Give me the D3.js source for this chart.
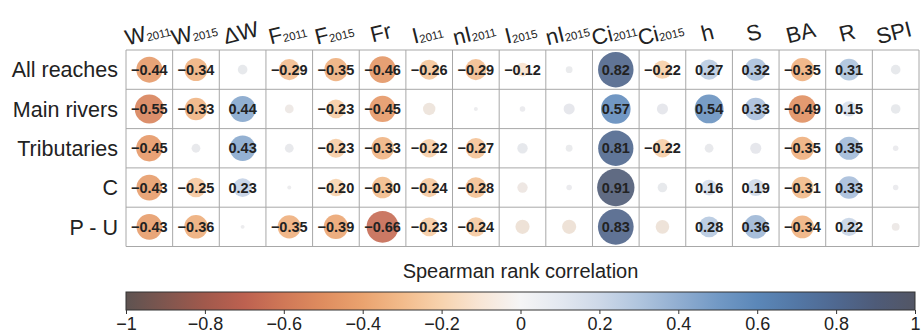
<!DOCTYPE html>
<html>
<head>
<meta charset="utf-8">
<script src="https://cdn.jsdelivr.net/npm/d3@7"></script>
<style>
  html, body { margin: 0; padding: 0; background: #fff; }
  svg { display: block; font-family: "Liberation Sans", Arial, sans-serif; }
</style>
</head>
<body>
<svg id="chart" width="921" height="336"></svg>
<script>
// Reach groups (rows)
const rows = ["All reaches", "Main rivers", "Tributaries", "C", "P - U"];

// Variables (columns): main symbol and subscript
const colBase = ["W", "W", "ΔW", "F", "F", "Fr", "I", "nI", "I", "nI", "Ci", "Ci", "h", "S", "BA", "R", "SPI"];
const colSub  = ["2011", "2015", "", "2011", "2015", "", "2011", "2011", "2015", "2015", "2011", "2015", "", "", "", "", ""];

// Spearman rank correlations per row
const rhoAll   = [-0.44, -0.34,  0.06, -0.29, -0.35, -0.46, -0.26, -0.29, -0.12,  0.03, 0.82, -0.22, 0.27, 0.32, -0.35, 0.31,  0.06];
const rhoMain  = [-0.55, -0.33,  0.44, -0.05, -0.23, -0.45, -0.10,  0.01,  0.02,  0.08, 0.57,  0.08, 0.54, 0.33, -0.49, 0.15,  0.06];
const rhoTrib  = [-0.45,  0.05,  0.43,  0.05, -0.23, -0.33, -0.22, -0.27,  0.07,  0.03, 0.81, -0.22, 0.05, 0.08, -0.35, 0.35,  0.02];
const rhoC     = [-0.43, -0.25,  0.23,  0.01, -0.20, -0.30, -0.24, -0.28, -0.07,  0.02, 0.91,  0.06, 0.16, 0.19, -0.31, 0.33,  0.02];
const rhoPU    = [-0.43, -0.36,  0.01, -0.35, -0.39, -0.66, -0.23, -0.24, -0.13, -0.13, 0.83, -0.12, 0.28, 0.36, -0.34, 0.22, -0.04];

// 1 = significant (value printed), 0 = not significant
const sigAll   = [1, 1, 0, 1, 1, 1, 1, 1, 1, 0, 1, 1, 1, 1, 1, 1, 0];
const sigMain  = [1, 1, 1, 0, 1, 1, 0, 0, 0, 0, 1, 0, 1, 1, 1, 1, 0];
const sigTrib  = [1, 0, 1, 0, 1, 1, 1, 1, 0, 0, 1, 1, 0, 0, 1, 1, 0];
const sigC     = [1, 1, 1, 0, 1, 1, 1, 1, 0, 0, 1, 0, 1, 1, 1, 1, 0];
const sigPU    = [1, 1, 0, 1, 1, 1, 1, 1, 0, 0, 1, 0, 1, 1, 1, 1, 0];

// Colour bar ticks
const barTicks = [-1, -0.8, -0.6, -0.4, -0.2, 0, 0.2, 0.4, 0.6, 0.8, 1];

const rhoRows = [rhoAll, rhoMain, rhoTrib, rhoC, rhoPU];
const sigRows = [sigAll, sigMain, sigTrib, sigC, sigPU];
const colKeys = colBase.map((b, i) => i);

const cells = [];
rows.forEach((row, ri) => {
  colKeys.forEach(ci => {
    cells.push({ row, col: ci, v: rhoRows[ri][ci], sig: sigRows[ri][ci] === 1 });
  });
});

// Diverging palette: brown-red-orange -> white -> blue -> slate
const paletteDomain = [-1, -0.8, -0.7, -0.6, -0.5, -0.4, -0.3, -0.2, -0.1, 0, 0.1, 0.2, 0.3, 0.4, 0.5, 0.6, 0.7, 0.8, 0.9, 1];
const paletteRange  = ["#5e5351", "#a1594c", "#bd6150", "#d07857", "#df8d5f", "#eaa36f", "#f2bb8b", "#f7d3ae", "#f8e6d6", "#f5f5f6",
                       "#e3e8f0", "#cdd8e8", "#b0c5de", "#91aed1", "#7299c5", "#5b87b8", "#5377a5", "#4f6890", "#4e5b78", "#535665"];
const color = d3.scaleLinear().domain(paletteDomain).range(paletteRange).clamp(true);

const svg = d3.select("#chart");

const x = d3.scaleBand().domain(colKeys).range([126, 919]);
const y = d3.scaleBand().domain(rows).range([50, 246.5]);
const radius = d3.scaleSqrt().domain([0, 1]).range([0, 19.6]);

// Grid
const grid = svg.append("g");
grid.selectAll("line.v")
  .data(d3.range(colKeys.length + 1))
  .join("line")
  .attr("x1", i => 126 + i * x.bandwidth())
  .attr("x2", i => 126 + i * x.bandwidth())
  .attr("y1", y.range()[0])
  .attr("y2", y.range()[1])
  .attr("stroke", "#a8a8a8")
  .attr("stroke-width", 1);
grid.selectAll("line.h")
  .data(d3.range(rows.length + 1))
  .join("line")
  .attr("x1", 126)
  .attr("x2", 919)
  .attr("y1", i => 50 + i * y.bandwidth())
  .attr("y2", i => 50 + i * y.bandwidth())
  .attr("stroke", "#a8a8a8")
  .attr("stroke-width", 1);

// Circles
svg.append("g")
  .selectAll("circle")
  .data(cells)
  .join("circle")
  .attr("cx", d => x(d.col) + x.bandwidth() / 2)
  .attr("cy", d => y(d.row) + y.bandwidth() / 2)
  .attr("r", d => radius(Math.abs(d.v)))
  .attr("fill", d => d.sig ? color(d.v) : d3.interpolateRgb(color(d.v), "#c4c4c8")(0.3))
  .attr("fill-opacity", d => d.sig ? 0.9 : 0.75);

// Value labels for significant cells
const fmt = d3.format(".2f");
svg.append("g")
  .selectAll("text")
  .data(cells.filter(d => d.sig))
  .join("text")
  .attr("x", d => x(d.col) + x.bandwidth() / 2)
  .attr("y", d => y(d.row) + y.bandwidth() / 2)
  .attr("dy", "0.36em")
  .attr("text-anchor", "middle")
  .attr("font-size", 14.5)
  .attr("font-weight", "bold")
  .attr("fill", "#222")
  .text(d => fmt(d.v));

// Row labels
svg.append("g")
  .selectAll("text")
  .data(rows)
  .join("text")
  .attr("x", 118)
  .attr("y", d => y(d) + y.bandwidth() / 2)
  .attr("dy", "0.36em")
  .attr("text-anchor", "end")
  .attr("font-size", 21.5)
  .attr("fill", "#222")
  .text(d => d);

// Column headers, slightly tilted
const heads = svg.append("g")
  .selectAll("text")
  .data(colKeys)
  .join("text")
  .attr("transform", i => `translate(${x(i) + x.bandwidth() / 2},40) rotate(-14)`)
  .attr("text-anchor", "middle")
  .attr("font-size", 22)
  .attr("fill", "#222");
heads.append("tspan").text(i => colBase[i]);
heads.append("tspan")
  .attr("font-size", 11.5)
  .attr("dy", 1)
  .text(i => colSub[i]);

// Colour bar
const bx = d3.scaleLinear().domain([-1, 1]).range([126, 915]);
const defs = svg.append("defs");
const grad = defs.append("linearGradient").attr("id", "rhoGrad").attr("x1", "0%").attr("x2", "100%");
grad.selectAll("stop")
  .data(paletteDomain)
  .join("stop")
  .attr("offset", d => `${(d + 1) / 2 * 100}%`)
  .attr("stop-color", d => color(d));

svg.append("text")
  .attr("x", (bx(-1) + bx(1)) / 2)
  .attr("y", 278)
  .attr("text-anchor", "middle")
  .attr("font-size", 20)
  .attr("fill", "#222")
  .text("Spearman rank correlation");

svg.append("rect")
  .attr("x", bx(-1))
  .attr("y", 292)
  .attr("width", bx(1) - bx(-1))
  .attr("height", 18)
  .attr("fill", "url(#rhoGrad)")
  .attr("stroke", "#333")
  .attr("stroke-width", 1);

const axis = svg.append("g")
  .attr("transform", "translate(0,310)")
  .call(d3.axisBottom(bx).tickValues(barTicks).tickSize(4).tickPadding(3).tickFormat(d3.format("~g")));
axis.select(".domain").remove();
axis.selectAll(".tick line").attr("stroke", "#333");
axis.selectAll(".tick text")
  .attr("font-size", 18)
  .attr("font-family", "Liberation Sans, Arial, sans-serif")
  .attr("fill", "#222");
</script>
</body>
</html>
